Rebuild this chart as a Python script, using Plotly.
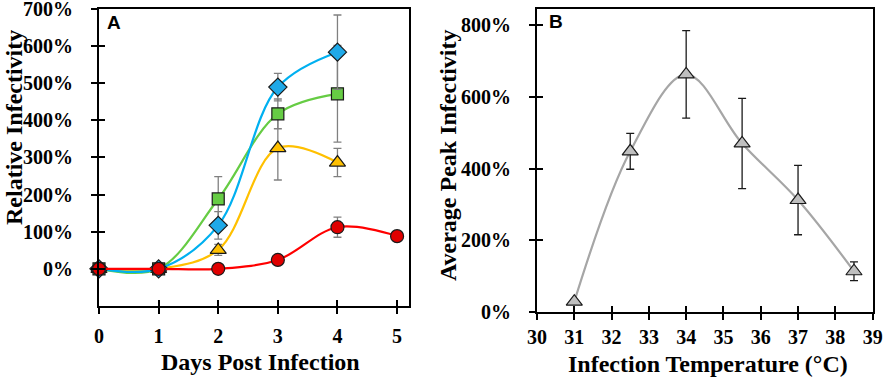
import plotly.graph_objects as go

W, H = 886, 379

# ---- Panel A data ----
days = [0, 1, 2, 3, 4, 5]
blue_x = [0, 1, 2, 3, 4]
blue_y = [0, 0, 117, 489, 583]
blue_err = [0, 0, 37, 37, 100]
green_x = [0, 1, 2, 3, 4]
green_y = [0, 0, 188, 417, 471]
green_err = [0, 0, 60, 40, 130]
yellow_x = [0, 1, 2, 3, 4]
yellow_y = [0, 0, 51, 325, 286]
yellow_err = [0, 0, 15, 86, 38]
red_x = [0, 1, 2, 3, 4, 5]
red_y = [0, 0, 0, 24, 112, 88]
red_err = [0, 0, 0, 0, 27, 0]

# ---- Panel B data ----
temps = [31, 32.5, 34, 35.5, 37, 38.5]
peak = [28, 448, 663, 470, 312, 113]
peak_err = [0, 50, 122, 126, 97, 26]

y_ticks_a = [0, 100, 200, 300, 400, 500, 600, 700]
y_ticks_b = [0, 200, 400, 600, 800]
x_ticks_b = list(range(30, 40))

FONT = "Liberation Serif"

def px_x(p):
    return p / W

def px_y(p):
    return 1 - p / H

fig = go.Figure()

def add_series(x, y, err, color, symbol, size, fill, xa, ya, errcolor):
    fig.add_trace(go.Scatter(
        x=x, y=y, mode="lines+markers",
        line=dict(color=color, width=2.2, shape="spline", smoothing=1.0),
        marker=dict(symbol=symbol, size=size, color=fill, line=dict(color="#1a1a1a", width=1.2)),
        error_y=dict(type="data", array=err, visible=True, color=errcolor, thickness=1.3, width=4),
        xaxis=xa, yaxis=ya, showlegend=False, cliponaxis=False,
    ))

add_series(yellow_x, yellow_y, yellow_err, "#FFC000", "triangle-up", 14, "#FFC000", "x", "y", "#808080")
add_series(green_x, green_y, green_err, "#66CC44", "square", 12, "#66CC44", "x", "y", "#808080")
add_series(blue_x, blue_y, blue_err, "#00B0F0", "diamond", 14, "#1FA9E8", "x", "y", "#808080")
add_series(red_x, red_y, red_err, "#FF0000", "circle", 13, "#E00000", "x", "y", "#808080")

add_series(temps, peak, peak_err, "#A6A6A6", "triangle-up", 14, "#BFBFBF", "x2", "y2", "#1a1a1a")

axis_common = dict(
    showgrid=False, zeroline=False, showline=True, linecolor="black", linewidth=2,
    mirror=True, ticks="outside", ticklen=6, tickwidth=2, tickcolor="black",
    automargin=False, ticklabeloverflow="allow",
    tickfont=dict(family=FONT, size=20, color="black", weight="bold"),
)
inner_common = dict(
    showticklabels=False, ticks="inside", ticklen=6, tickwidth=2, tickcolor="black",
    showgrid=False, zeroline=False, showline=False, automargin=False,
)

dom_ax = [px_x(99), px_x(409)]
dom_ay = [px_y(306), px_y(8.5)]
dom_bx = [px_x(537), px_x(873)]
dom_by = [px_y(311.7), px_y(8.5)]

fig.update_layout(
    width=W, height=H, autosize=False,
    margin=dict(l=0, r=0, t=0, b=0, pad=0, autoexpand=False),
    paper_bgcolor="white", plot_bgcolor="white",
    xaxis=dict(domain=dom_ax, range=[0, 5.2], tickvals=days, anchor="y",
               ticklabelstandoff=5, **axis_common),
    yaxis=dict(domain=dom_ay, range=[-100, 700.5], tickvals=y_ticks_a,
               ticktext=[f"{v}%" for v in y_ticks_a], anchor="x",
               ticklabelstandoff=14, **axis_common),
    xaxis2=dict(domain=dom_bx, range=[30, 39.01], tickvals=x_ticks_b, anchor="y2",
                ticklabelstandoff=0, **axis_common),
    yaxis2=dict(domain=dom_by, range=[0, 847], tickvals=y_ticks_b,
                ticktext=[f"{v}%" for v in y_ticks_b], anchor="x2",
                ticklabelstandoff=14, **axis_common),
    xaxis3=dict(domain=dom_ax, range=[0, 5.2], tickvals=days, overlaying="x", anchor="y", **inner_common),
    yaxis3=dict(domain=dom_ay, range=[-100, 700.5], tickvals=y_ticks_a, overlaying="y", anchor="x", **inner_common),
    xaxis4=dict(domain=dom_bx, range=[30, 39.01], tickvals=x_ticks_b, overlaying="x2", anchor="y2", **inner_common),
    yaxis4=dict(domain=dom_by, range=[0, 847], tickvals=y_ticks_b, overlaying="y2", anchor="x2", **inner_common),
)

fig.add_trace(go.Scatter(x=[0], y=[0], xaxis="x3", yaxis="y3", mode="markers",
                         marker=dict(opacity=0), showlegend=False, hoverinfo="skip"))
fig.add_trace(go.Scatter(x=[30], y=[0], xaxis="x4", yaxis="y4", mode="markers",
                         marker=dict(opacity=0), showlegend=False, hoverinfo="skip"))

title_font = dict(family=FONT, size=24, color="black", weight="bold")
ann = [
    dict(text="Days Post Infection", x=px_x(260), y=px_y(362), font=title_font),
    dict(text="Infection Temperature (°C)", x=px_x(708), y=px_y(364), font=title_font),
    dict(text="Relative Infectivity", x=px_x(14), y=px_y(128), font=title_font, textangle=-90),
    dict(text="Average Peak Infectivity", x=px_x(448), y=px_y(156), font=title_font, textangle=-90),
    dict(text="A", x=px_x(114), y=px_y(23), font=dict(family="Liberation Sans", size=19, color="black", weight="bold")),
    dict(text="B", x=px_x(556), y=px_y(21), font=dict(family="Liberation Sans", size=19, color="black", weight="bold")),
]
for a in ann:
    fig.add_annotation(xref="paper", yref="paper", showarrow=False,
                       xanchor="center", yanchor="middle", **a)

fig.write_html("out.html",
               config={"displayModeBar": False},
               post_script="document.body.style.margin='0';document.body.style.padding='0';")
